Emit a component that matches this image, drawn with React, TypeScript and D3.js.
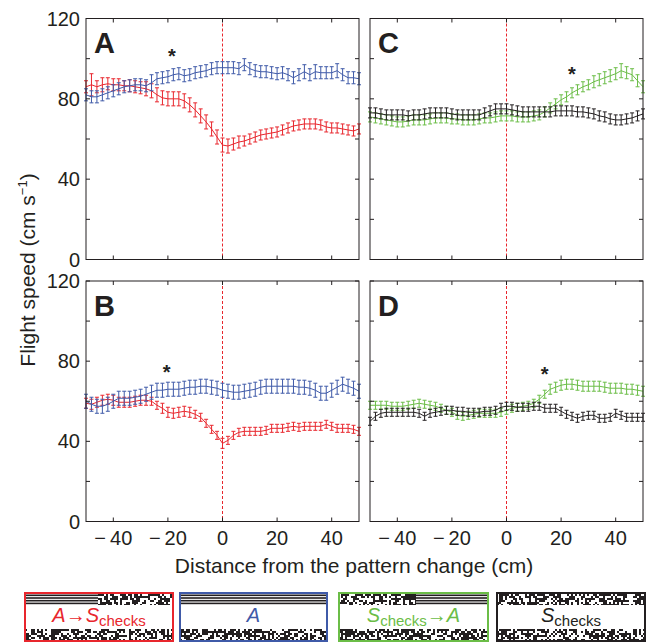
import React from "react";
import * as d3 from "d3";

// distance from the pattern change (cm)
const distance = [-50, -48, -46, -44, -42, -40, -38, -36, -34, -32, -30, -28, -26, -24, -22, -20, -18, -16, -14, -12, -10, -8, -6, -4, -2, 0, 2, 4, 6, 8, 10, 12, 14, 16, 18, 20, 22, 24, 26, 28, 30, 32, 34, 36, 38, 40, 42, 44, 46, 48, 50];

// panel A
const aRed = [86, 87, 86, 87, 87.5, 87, 87, 86.5, 86.5, 86, 85.5, 85, 84, 82, 80.5, 80, 80, 80, 79, 77, 74.5, 71.5, 68.5, 65, 61, 57, 56.5, 57.5, 58.5, 59, 60, 61, 62, 62.5, 63, 63.5, 64.5, 65.5, 66.5, 67, 67.5, 67.5, 67.5, 67, 66, 65.5, 65.5, 65, 64.5, 64, 65];
const aRedErr = [3, 5.5, 3, 3.5, 3, 3, 3, 2.5, 3, 3, 3, 3.5, 3.5, 3.5, 3.5, 3.5, 3.5, 3.5, 3.5, 3.5, 3.5, 3.5, 3.5, 3.5, 3.5, 3.5, 3.5, 3, 3, 2.5, 2.5, 2.5, 2.5, 2.5, 2.5, 2.5, 2.5, 2.5, 2.5, 2.5, 2.5, 2.5, 2.5, 2.5, 2.5, 2.5, 2.5, 2.5, 2.5, 2.5, 2.5];
const aBlue = [82, 81, 81, 82, 83, 84, 85, 86, 86.5, 87, 87, 86.5, 88, 90, 90.5, 91, 92, 92.5, 91.5, 92, 93, 93.5, 94, 95, 95.5, 95.5, 95.5, 95.5, 95, 97, 95, 94, 93.5, 93.5, 93, 92.5, 93, 92, 90.5, 92, 93.5, 92, 93.5, 93, 93, 93, 94, 92, 90.5, 90.5, 90];
const aBlueErr = [3, 3, 3, 3, 3, 3, 3, 3, 3, 3, 3, 3, 4, 3, 3, 3, 3, 3, 3, 3, 3, 3, 3, 3, 3, 3, 3, 3, 3, 3, 3, 3, 3, 3, 3, 3, 3, 3, 3, 3, 3.5, 3, 3.5, 3, 3, 3, 3.5, 3, 3, 3, 3];

// panel B
const bRed = [59, 58.5, 59.5, 60.5, 61, 60.5, 59.5, 59.5, 59.5, 60, 60.5, 60.5, 60, 58, 56.5, 54.5, 54, 54.5, 55, 54.5, 53.5, 52, 49, 46, 43, 39, 40.5, 43, 44.5, 45, 45, 45, 45, 45.5, 46.5, 46.5, 46.5, 47, 47.5, 47, 47.5, 47.5, 47.5, 47.5, 48.5, 47.5, 46.5, 46.5, 46.5, 46, 45];
const bRedErr = [2.5, 2.5, 2.5, 2.5, 2.5, 2.5, 2.5, 2.5, 2.5, 2.5, 2.5, 2.5, 2, 2, 2.5, 2.5, 2.5, 2.5, 2.5, 2.5, 2, 2, 2, 2, 2, 2.5, 2, 2, 2, 2, 2, 2, 2, 2, 2, 2, 2, 2, 2, 2, 2, 2, 2, 2, 2, 2, 2, 2, 2, 2, 2];
const bBlue = [60, 58.5, 57.5, 57.5, 58.5, 60, 61.5, 61.5, 61.5, 62, 62.5, 63.5, 64.5, 65.5, 65.5, 66, 66, 66, 66.5, 67, 67, 67.5, 67.5, 67, 66.5, 65.5, 65, 64.5, 64.5, 65, 65.5, 66, 67, 67.5, 67.5, 67.5, 67.5, 67.5, 67.5, 67, 67, 66.5, 65.5, 64, 64, 65.5, 67, 68.5, 67.5, 66.5, 65];
const bBlueErr = [3.5, 3.5, 3.5, 3.5, 3.5, 3.5, 3.5, 3.5, 3.5, 3.5, 3.5, 3.5, 3.5, 3.5, 3.5, 3.5, 3.5, 3.5, 3.5, 3.5, 3.5, 3.5, 3.5, 3.5, 3.5, 3.5, 3.5, 3.5, 3.5, 3.5, 3.5, 3.5, 3.5, 3.5, 3.5, 3.5, 3.5, 3.5, 3.5, 3.5, 3.5, 3.5, 3.5, 3.5, 3.5, 3.5, 3.5, 3.5, 3.5, 3.5, 3.5];

// panel C
const cGreen = [71, 70.5, 70, 69.5, 69, 68.5, 68.5, 69, 69.5, 69.5, 69.5, 70, 70.5, 70.5, 70.5, 70, 70, 69.5, 69.5, 69.5, 70, 70.5, 70.5, 71, 71.5, 71.5, 71.5, 71, 71, 71, 71.5, 72, 73.5, 75.5, 77.5, 79.5, 81, 83, 84.5, 86, 87, 88.5, 89.5, 90.5, 91.5, 92.5, 94, 93, 92, 89, 86];
const cGreenErr = [2.5, 2.5, 2.5, 2.5, 2.5, 2.5, 2.5, 2.5, 2.5, 2.5, 2.5, 2.5, 2.5, 2.5, 2.5, 2.5, 2.5, 2.5, 2.5, 2.5, 2.5, 2.5, 2.5, 2.5, 2.5, 2.5, 2.5, 2.5, 2.5, 2.5, 2.5, 2.5, 2.5, 2.5, 2.5, 2.5, 2.5, 2.5, 2.5, 2.5, 2.5, 3, 3, 3, 3, 3, 3.5, 3, 3, 3, 3];
const cBlack = [73, 73, 72.5, 72, 72, 72, 72, 71.5, 72, 72, 72.5, 73, 73, 73, 73, 72.5, 72, 72, 72, 72, 72, 73, 74, 75, 75, 75, 74.5, 74, 73.5, 73.5, 73.5, 73.5, 73.5, 73.5, 74, 74, 74, 74, 73.5, 73.5, 73, 72.5, 71.5, 71, 70, 69.5, 69.5, 70, 70.5, 71.5, 72.5];
const cBlackErr = [2.5, 2.5, 2.5, 2.5, 2.5, 2.5, 2.5, 2.5, 2.5, 2.5, 2.5, 2.5, 2.5, 2.5, 2.5, 2.5, 2.5, 2.5, 2.5, 2.5, 2.5, 2.5, 2.5, 2.5, 2.5, 2.5, 2.5, 2.5, 2.5, 2.5, 2.5, 2.5, 2.5, 2.5, 2.5, 2.5, 2.5, 2.5, 2.5, 2.5, 2.5, 2.5, 2.5, 2.5, 2.5, 2.5, 2.5, 2.5, 2.5, 2.5, 2.5];

// panel D
const dGreen = [58, 58, 58, 58, 57.5, 57.5, 57.5, 58, 58.5, 59, 58.5, 58, 57.5, 56.5, 55.5, 54.5, 53, 52.5, 53, 53.5, 54, 54, 54, 54, 54.5, 55.5, 56.5, 57, 57.5, 58, 59, 61, 63.5, 66, 67, 68, 68.5, 68.5, 68, 67.5, 67.5, 67.5, 67.5, 67, 66.5, 66.5, 66.5, 66, 66, 65.5, 65];
const dGreenErr = [2, 2, 2, 2, 2, 2, 2, 2, 2, 2, 2, 2, 2, 2, 2, 2, 2, 2, 2, 2, 2, 2, 2, 2, 2, 2, 2, 2, 2, 2, 2, 2, 2, 2.5, 2.5, 2.5, 2.5, 2.5, 2.5, 2.5, 2.5, 2.5, 2.5, 2.5, 2.5, 2.5, 2.5, 2.5, 2.5, 2.5, 2.5];
const dBlack = [50, 52.5, 54, 54.5, 54.5, 54.5, 54.5, 54.5, 54.5, 54, 52.5, 54, 54.5, 55, 55.5, 55.5, 55, 55, 54.5, 54.5, 54.5, 55, 55, 55.5, 57, 57.5, 57.5, 57, 57, 57, 57.5, 57.5, 56.5, 56.5, 56.5, 55, 53.5, 52.5, 51.5, 52.5, 53, 53, 51.5, 51.5, 52, 54, 53, 52, 52, 52, 52];
const dBlackErr = [2, 2, 2, 2, 2, 2, 2, 2, 2, 2, 2, 2, 2, 2, 2, 2, 2, 2, 2, 2, 2, 2, 2, 2, 2, 2, 2, 2, 2, 2, 2, 2, 2, 2, 2, 2, 2, 2, 2, 2, 2, 2, 2, 2, 2, 2, 2, 2, 2, 2, 2];

// asterisk positions [distance, speed]
const stars = { A: [-18.5, 98], B: [-20.5, 71], C: [24, 89], D: [14, 70] };

const yTicks = [0, 20, 40, 60, 80, 100, 120];
const yLabels = [0, 40, 80, 120];
const xTicks = [-40, -20, 0, 20, 40];

const RED = "#e8262d";
const BLUE = "#3f5aa8";
const GREEN = "#6bbd47";
const BLACK = "#231f20";
const FONT = "'Liberation Sans', Arial, Helvetica, sans-serif";

const cols = [{ x0: 86, x1: 359 }, { x0: 370, x1: 643 }];
const rows = [{ y0: 18.5, y1: 259.5 }, { y0: 281, y1: 521.5 }];

const fmt = (v: number) => (v < 0 ? "\u2212\u2009" + Math.abs(v) : String(v));

function Series({ x, y, vals, err, color }: any) {
  const line = d3.line<number>().x((_, i) => x(distance[i])).y(d => y(d));
  return (
    <g stroke={color} fill="none" strokeWidth={1}>
      <path d={line(vals) || ""} />
      {vals.map((v: number, i: number) => {
        const cx = x(distance[i]);
        const lo = y(v - err[i]);
        const hi = y(v + err[i]);
        return (
          <g key={i}>
            <line x1={cx} x2={cx} y1={lo} y2={hi} />
            <line x1={cx - 2} x2={cx + 2} y1={lo} y2={lo} />
            <line x1={cx - 2} x2={cx + 2} y1={hi} y2={hi} />
          </g>
        );
      })}
    </g>
  );
}

function Panel({ col, row, letter, series, star, showX, showY }: any) {
  const x = d3.scaleLinear().domain([-50, 50]).range([col.x0, col.x1]);
  const y = d3.scaleLinear().domain([0, 120]).range([row.y1, row.y0]);
  const tl = 4;
  return (
    <g>
      <line x1={x(0)} x2={x(0)} y1={row.y0} y2={row.y1} stroke={RED} strokeDasharray="3,2" strokeWidth={1} />
      {series.map((s: any, i: number) => (
        <Series key={i} x={x} y={y} {...s} />
      ))}
      <text x={x(star[0])} y={y(star[1])} textAnchor="middle" fontFamily={FONT} fontWeight="bold" fontSize={20} fill={BLACK}>*</text>
      <text x={col.x0 + 8} y={row.y0 + 34.5} fontFamily={FONT} fontWeight="bold" fontSize={29} fill={BLACK}>{letter}</text>
      <g stroke={BLACK} strokeWidth={1}>
        {yTicks.map(t => (
          <g key={t}>
            <line x1={col.x0} x2={col.x0 + tl} y1={y(t)} y2={y(t)} />
            <line x1={col.x1} x2={col.x1 - tl} y1={y(t)} y2={y(t)} />
          </g>
        ))}
        {xTicks.map(t => (
          <g key={t}>
            <line x1={x(t)} x2={x(t)} y1={row.y1} y2={row.y1 - tl} />
            <line x1={x(t)} x2={x(t)} y1={row.y0} y2={row.y0 + tl} />
          </g>
        ))}
        <rect x={col.x0} y={row.y0} width={col.x1 - col.x0} height={row.y1 - row.y0} fill="none" />
      </g>
      {showY && yLabels.map(t => (
        <text key={t} x={col.x0 - 6} y={y(t) + 7} textAnchor="end" fontFamily={FONT} fontSize={20} fill={BLACK}>{t}</text>
      ))}
      {showX && xTicks.map(t => (
        <text key={t} x={x(t)} y={row.y1 + 23.5} textAnchor="middle" fontFamily={FONT} fontSize={20} fill={BLACK}>{fmt(t)}</text>
      ))}
    </g>
  );
}

// deterministic texture for the "checks" strips
function hash(i: number, j: number, seed: number) {
  let h = (i * 374761393 + j * 668265263 + seed * 982451653) | 0;
  h = Math.imul(h ^ (h >>> 13), 1274126177);
  return ((h ^ (h >>> 16)) >>> 0) / 4294967296;
}

function Checks({ x, y, w, h, seed }: any) {
  const c = 2;
  const cells = [];
  for (let i = 0; i < Math.ceil(w / c); i++) {
    for (let j = 0; j < Math.ceil(h / c); j++) {
      if (hash(i, j, seed) < 0.55) {
        cells.push(<rect key={i + "_" + j} x={x + i * c} y={y + j * c} width={Math.min(c, x + w - (x + i * c))} height={Math.min(c, y + h - (y + j * c))} />);
      }
    }
  }
  return <g fill={BLACK}>{cells}</g>;
}

function Stripes({ x, y, w }: any) {
  return (
    <g fill={BLACK}>
      {[0.5, 3.2, 5.9, 8.6].map((o, i) => (
        <rect key={i} x={x} y={y + o} width={w} height={1.6} />
      ))}
    </g>
  );
}

const legendBoxes = [
  { x0: 25, x1: 173, color: RED, top: [["s", 25, 98], ["c", 98, 173]] },
  { x0: 180, x1: 327, color: BLUE, top: [["s", 180, 327]] },
  { x0: 339, x1: 488, color: GREEN, top: [["c", 339, 416], ["s", 416, 488]] },
  { x0: 497, x1: 645, color: BLACK, top: [["c", 497, 645]] },
];

function Legend() {
  const y0 = 593, y1 = 641, sh = 11;
  return (
    <g>
      {legendBoxes.map((b, k) => (
        <g key={k}>
          {b.top.map(([t, a, e]: any, i) =>
            t === "s" ? <Stripes key={i} x={a} y={y0 + 1} w={e - a} /> : <Checks key={i} x={a} y={y0 + 1} w={e - a} h={sh} seed={k * 7 + i + 1} />
          )}
          <Checks x={b.x0} y={y1 - 1 - sh} w={b.x1 - b.x0} h={sh} seed={k * 7 + 5} />
          <rect x={b.x0} y={y0} width={b.x1 - b.x0} height={y1 - y0} fill="none" stroke={b.color} strokeWidth={2} />
        </g>
      ))}
      <text x={99} y={622} textAnchor="middle" fontFamily={FONT} fontSize={20} fill={RED}>
        <tspan fontStyle="italic">A</tspan>→<tspan fontStyle="italic">S</tspan><tspan fontSize={15} dy={4}>checks</tspan>
      </text>
      <text x={253.5} y={622} textAnchor="middle" fontFamily={FONT} fontSize={20} fill={BLUE} fontStyle="italic">A</text>
      <text x={413.5} y={622} textAnchor="middle" fontFamily={FONT} fontSize={20} fill={GREEN}>
        <tspan fontStyle="italic">S</tspan><tspan fontSize={15} dy={4}>checks</tspan><tspan dy={-4}>→</tspan><tspan fontStyle="italic">A</tspan>
      </text>
      <text x={571} y={622} textAnchor="middle" fontFamily={FONT} fontSize={20} fill={BLACK}>
        <tspan fontStyle="italic">S</tspan><tspan fontSize={15} dy={4}>checks</tspan>
      </text>
    </g>
  );
}

export default function App() {
  return (
    <svg width={648} height={643} style={{ position: "absolute", left: 0, top: 0, background: "#fff" }}>
      <Panel col={cols[0]} row={rows[0]} letter="A" star={stars.A} showY
        series={[{ vals: aRed, err: aRedErr, color: RED }, { vals: aBlue, err: aBlueErr, color: BLUE }]} />
      <Panel col={cols[1]} row={rows[0]} letter="C" star={stars.C}
        series={[{ vals: cGreen, err: cGreenErr, color: GREEN }, { vals: cBlack, err: cBlackErr, color: BLACK }]} />
      <Panel col={cols[0]} row={rows[1]} letter="B" star={stars.B} showY showX
        series={[{ vals: bRed, err: bRedErr, color: RED }, { vals: bBlue, err: bBlueErr, color: BLUE }]} />
      <Panel col={cols[1]} row={rows[1]} letter="D" star={stars.D} showX
        series={[{ vals: dGreen, err: dGreenErr, color: GREEN }, { vals: dBlack, err: dBlackErr, color: BLACK }]} />
      <text x={354} y={573} textAnchor="middle" fontFamily={FONT} fontSize={21} fill={BLACK}>Distance from the pattern change (cm)</text>
      <text transform="translate(35,270) rotate(-90)" textAnchor="middle" fontFamily={FONT} fontSize={21} fill={BLACK}>
        Flight speed (cm s<tspan fontSize={13} dy={-8}>−1</tspan><tspan dy={8}>)</tspan>
      </text>
      <Legend />
    </svg>
  );
}
